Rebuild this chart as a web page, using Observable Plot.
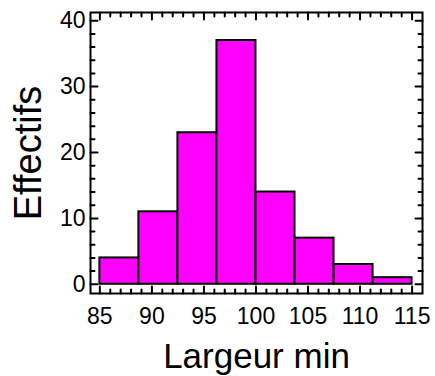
<!DOCTYPE html>
<html><head><meta charset="utf-8">
<script src="https://cdn.jsdelivr.net/npm/d3@7"></script>
<script src="https://cdn.jsdelivr.net/npm/@observablehq/plot@0.6"></script>
<style>
body{margin:0;background:#fff}
svg{font-family:"Liberation Sans",Arial,sans-serif}
g[aria-label="x-axis label"] text{font-size:35px}
g[aria-label="y-axis label"] text{font-size:38px}
</style></head><body><div id="chart"></div>
<script>
const binStart = [85, 88.75, 92.5, 96.25, 100, 103.75, 107.5, 111.25];
const binEnd = [88.75, 92.5, 96.25, 100, 103.75, 107.5, 111.25, 115];
const counts = [4, 11, 23, 37, 14, 7, 3, 1];
const xTicks = [85, 90, 95, 100, 105, 110, 115];
const yTicks = [0, 10, 20, 30, 40];
const xMinor = d3.range(85, 116, 1).filter(d => d % 5 !== 0);
const yMinor = d3.range(0, 41, 2).filter(d => d % 10 !== 0);

const bins = binStart.map((s, i) => ({x1: s, x2: binEnd[i], count: counts[i]}));
const tickShape = {draw(ctx, l) { ctx.moveTo(0, 0); ctx.lineTo(0, -l); }};
const MAJ = 7, MIN = 4;
const tk = (data, ch, anchor, rot, len) => Plot.vector(data, {
  [ch]: d => d, frameAnchor: anchor, rotate: rot, length: len, anchor: "start",
  shape: tickShape, stroke: "black", strokeWidth: 2
});

const chart = Plot.plot({
  width: 435, height: 376,
  marginLeft: 90, marginRight: 13, marginTop: 12, marginBottom: 83,
  x: {domain: [84.1, 116]},
  y: {domain: [-1.4, 41.25]},
  marks: [
    Plot.rectY(bins, {x1: "x1", x2: "x2", y: "count", fill: "#FF00FF", stroke: "black", strokeWidth: 2, inset: 0}),
    tk(yTicks, "y", "left", 90, MAJ), tk(yMinor, "y", "left", 90, MIN),
    tk(yTicks, "y", "right", -90, MAJ), tk(yMinor, "y", "right", -90, MIN),
    tk(xTicks, "x", "bottom", 0, MAJ), tk(xMinor, "x", "bottom", 0, MIN),
    tk(xTicks, "x", "top", 180, MAJ), tk(xMinor, "x", "top", 180, MIN),
    Plot.frame({stroke: "black", strokeWidth: 2}),
    Plot.axisY(yTicks, {anchor: "left", tickSize: 0, tickPadding: 5, fontSize: 23, color: "black",
      label: "Effectifs", labelAnchor: "center", labelOffset: 76, labelArrow: "none"}),
    Plot.axisX(xTicks, {anchor: "bottom", tickSize: 0, tickPadding: 14, fontSize: 23, color: "black",
      label: "Largeur min", labelAnchor: "center", labelOffset: 74, labelArrow: "none"})
  ]
});
document.getElementById("chart").appendChild(chart);
</script></body></html>
